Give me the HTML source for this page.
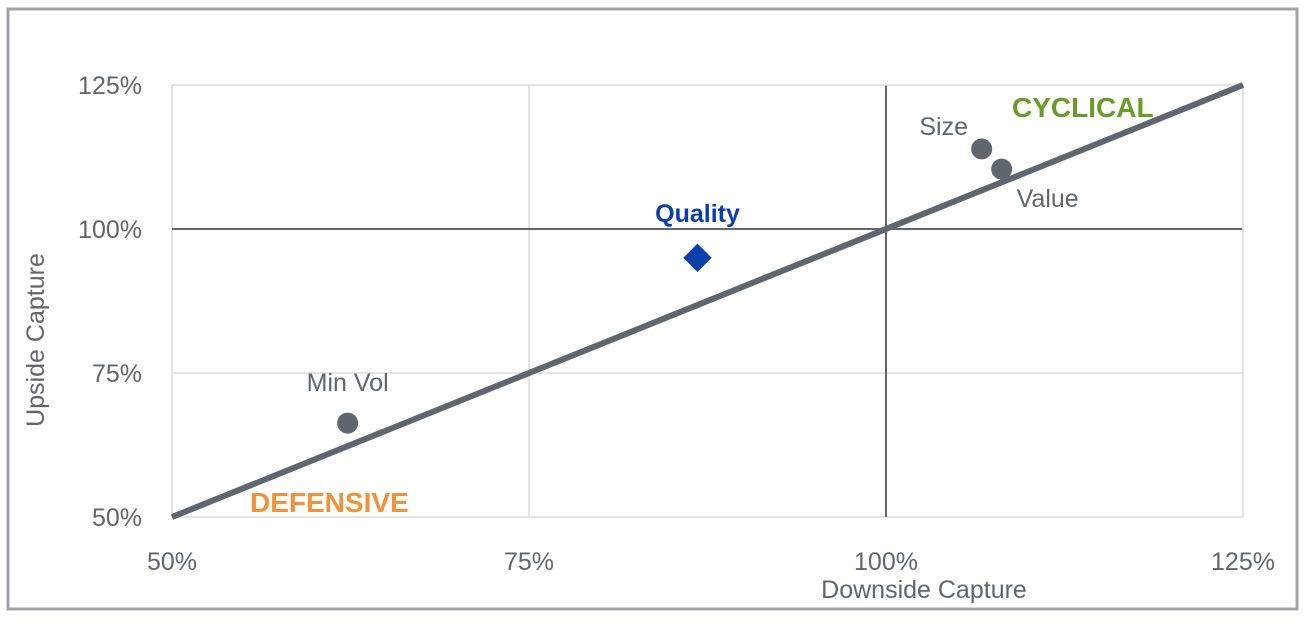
<!DOCTYPE html>
<html><head><meta charset="utf-8"><style>
body{margin:0;background:#fff;}
svg{display:block;font-family:"Liberation Sans",sans-serif;}
</style></head><body>
<svg id="c" width="1310" height="624">
<rect x="8" y="9" width="1289" height="600" fill="#fff" stroke="#a0a4a8" stroke-width="3"/>
<g id="g"></g>
</svg>
<script>
const ticks=[50,75,100,125];
const tickLabels=["50%","75%","100%","125%"];
const names=["Min Vol","Quality","Size","Value"];
const downside=[62.3,86.8,106.7,108.1];
const upside=[66.3,95.0,113.9,110.4];
const X=v=>172+(v-50)*(1243-172)/75;
const Y=v=>517-(v-50)*(517-85)/75;
const g=document.getElementById('g');
const NS='http://www.w3.org/2000/svg';
function mk(t,a,txt){const e=document.createElementNS(NS,t);for(const k in a)e.setAttribute(k,a[k]);if(txt)e.textContent=txt;g.appendChild(e);return e;}
ticks.forEach((t,i)=>{
 const strong=t===100;
 let e=mk('line',{x1:X(t),x2:X(t),y1:Y(125),y2:Y(50),stroke:strong?'#5f666d':'#dcdcdc','stroke-width':strong?2:1.5});
 
 
 e=mk('line',{x1:X(50),x2:X(125),y1:Y(t),y2:Y(t),stroke:strong?'#5f666d':'#dcdcdc','stroke-width':strong?2:1.5});
 
 
 e=mk('text',{x:X(t),y:570,'text-anchor':'middle','font-size':25,fill:'#5f666d'},tickLabels[i]);
 
 
 e=mk('text',{x:142,y:Y(t)+9,'text-anchor':'end','font-size':25,fill:'#5f666d'},tickLabels[i]);
 
 
});
let d=mk('line',{x1:X(50),y1:Y(50),x2:X(125),y2:Y(125),stroke:'#5f666d','stroke-width':6});


const lab=[[0,-32],[0,-36],[-38,-14],[46,38]];
names.forEach((n,i)=>{
 const cx=X(downside[i]),cy=Y(upside[i]);
 let m;
 if(n==='Quality'){m=mk('rect',{x:cx-10,y:cy-10,width:20,height:20,fill:'#0a3ea8',transform:`rotate(45 ${cx} ${cy})`});}
 else m=mk('circle',{cx:cx,cy:cy,r:10.5,fill:'#5f666d'});
 
 
 const t=mk('text',{x:cx+lab[i][0],y:cy+lab[i][1],'text-anchor':'middle','font-size':25,fill:n==='Quality'?'#0a3ea8':'#5f666d','font-weight':n==='Quality'?'bold':'normal'},n);
 
 
});
let t=mk('text',{x:1012,y:117,'font-size':28,'font-weight':'bold',fill:'#6a9a2a'},'CYCLICAL');


t=mk('text',{x:250,y:512,'font-size':28,'font-weight':'bold',fill:'#f0923a'},'DEFENSIVE');


t=mk('text',{x:924,y:598,'text-anchor':'middle','font-size':25,fill:'#5f666d'},'Downside Capture');


t=mk('text',{x:44,y:340,'text-anchor':'middle','font-size':25,fill:'#5f666d',transform:'rotate(-90 44 340)'},'Upside Capture');


</script>
</body></html>
